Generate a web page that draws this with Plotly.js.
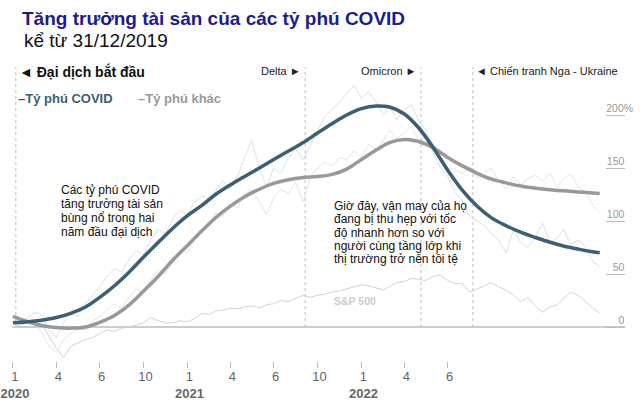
<!DOCTYPE html>
<html>
<head>
<meta charset="utf-8">
<script src="https://cdn.plot.ly/plotly-3.0.1.min.js"></script>
<style>
  html, body { margin: 0; padding: 0; background: #fff; }
  #chart { width: 640px; height: 412px; }
</style>
</head>
<body>
<div id="chart"></div>
<script>
// smoothed wealth growth in %, one value per month from Jan 2020 (last one is mid-month)
var covidTrend = [4, 5, 6.5, 9, 13, 19, 28, 39, 52, 66, 80, 93, 105, 115, 125, 134, 142, 150, 158, 166,
  174, 183, 192, 200, 206, 208.5, 207.5, 201, 188, 169, 148, 129, 114, 103, 95.5, 89.5, 84.5, 80, 76.5, 73.5, 71, 70];
var otherTrend = [10, 5, 1.5, -0.5, -1, 0, 4.5, 11, 21, 34, 48, 63, 77, 91, 103, 114, 123, 130, 135.5, 139,
  141, 142, 144, 149, 158, 167, 174, 177, 175, 169, 160, 152, 145, 139.5, 136, 133, 131, 129.5, 128.5, 127.5, 126.5, 126];

// raw series, two values per month (1st and 16th)
var covidRaw = [0, 4, 9, 14, 12, -2, -10, 4, 14, 10, 22, 30, 38, 48, 55, 52, 64, 72, 68, 82,
  92, 88, 102, 110, 106, 118, 124, 120, 128, 138, 131, 142, 160, 176, 150, 132, 150, 145, 160, 168,
  158, 172, 185, 198, 206, 212, 220, 228, 216, 222, 212, 200, 208, 196, 205, 210, 195, 186, 165, 150,
  142, 128, 118, 104, 100, 96, 88, 82, 70, 92, 80, 75, 84, 98, 80, 84, 92, 78, 82, 76, 62, 57];
var otherRaw = [0, 3, 6, 4, -5, -18, -24, -12, -6, -2, -3, 6, 10, 16, 22, 18, 28, 36, 32, 44,
  54, 50, 62, 72, 70, 84, 90, 96, 108, 104, 116, 112, 126, 130, 118, 106, 122, 130, 126, 136,
  118, 142, 150, 156, 152, 160, 158, 166, 160, 172, 168, 176, 186, 178, 183, 190, 176, 178, 165, 158,
  150, 148, 145, 152, 140, 146, 150, 138, 130, 142, 134, 140, 143, 138, 145, 132, 140, 145, 132, 128, 115, 108];
var sp500 = [0, 2, 4, 3, 3, -8, -20, -29, -18, -15, -12, -10, -6, -3, -4, -1, 0, 2, 4, 9,
  6, 4, 4, 6, 5, 8, 13, 12, 15, 16, 18, 17, 19, 20, 18, 21, 22, 25, 24, 27,
  30, 28, 30, 31, 33, 34, 36, 38, 40, 39, 37, 35, 38, 42, 43, 46, 45, 44, 48, 49,
  44, 41, 41, 33, 36, 39, 42, 38, 35, 30, 24, 28, 20, 14, 19, 21, 27, 33, 30, 24, 18, 13];

var eventDates = ['2020-01-07', '2021-09-05', '2022-05-06', '2022-08-23'];
var eventLabels = ['◄ Đại dịch bắt đầu', 'Delta ►', 'Omicron ►', '◄ Chiến tranh Nga - Ukraine'];

var tickDates = ['2020-01-01', '2020-04-01', '2020-07-01', '2020-10-01', '2021-01-01', '2021-04-01',
  '2021-07-01', '2021-10-01', '2022-01-01', '2022-04-01', '2022-07-01'];
var tickText = ['1<br><b>2020</b>', '4', '6', '10', '1<br><b>2021</b>', '4', '6', '10', '1<br><b>2022</b>', '4', '6'];

var yTicks = [0, 50, 100, 150, 200];
var yTickText = ['0', '50', '100', '150', '200%'];

var noteLeft = ['Các tỷ phú COVID', 'tăng trưởng tài sản', 'bùng nổ trong hai', 'năm đầu đại dịch'];
var noteRight = ['Giờ đây, vận may của họ', 'đang bị thu hẹp với tốc', 'độ nhanh hơn so với',
  'người cùng tầng lớp khi', 'thị trường trở nên tồi tệ'];

var FONT = 'Liberation Sans, Arial, sans-serif';
var BLUE = '#3b5f76';
var GREY = '#999999';

function halfMonth(i) {
  var d = new Date(Date.UTC(2020, Math.floor(i / 2), i % 2 ? 16 : 1));
  return d.toISOString().slice(0, 10);
}
var rawDates = covidRaw.map(function (v, i) { return halfMonth(i); });
var trendDates = covidTrend.map(function (v, i) {
  return i < covidTrend.length - 1 ? halfMonth(2 * i) : halfMonth(2 * i - 1);
});

// pixel -> paper helpers (plot area is x 12..625, y 62..361)
function px(p) { return (p - 12) / 613; }
function py(p) { return (361 - p) / 299; }

// pad non-% labels so the numbers line up and "%" hangs out
var pad = '\u00a0\u00a0\u00a0';
var yText = yTickText.map(function (t) { return t.indexOf('%') < 0 ? t + pad : t; });

var data = [
  { x: rawDates, y: sp500, type: 'scatter', mode: 'lines', line: { color: '#d2d2d2', width: 1 } },
  { x: rawDates, y: otherRaw, type: 'scatter', mode: 'lines', line: { color: '#e4e4e4', width: 1 } },
  { x: rawDates, y: covidRaw, type: 'scatter', mode: 'lines', line: { color: '#d8e1e7', width: 1 } },
  { x: trendDates, y: otherTrend, type: 'scatter', mode: 'lines', line: { color: GREY, width: 3.5, shape: 'spline' } },
  { x: trendDates, y: covidTrend, type: 'scatter', mode: 'lines', line: { color: BLUE, width: 3.5, shape: 'spline' } }
];

var shapes = eventDates.map(function (d) {
  return { type: 'line', xref: 'x', yref: 'y', x0: d, x1: d, y0: 0, y1: 245,
    line: { color: '#bbbbbb', width: 1, dash: 'dot' }, layer: 'below' };
});

var annotations = [];
eventDates.forEach(function (d, i) {
  var left = eventLabels[i].charAt(0) === '◄';
  annotations.push({
    xref: 'x', yref: 'paper', x: d, y: py(71), xanchor: left ? 'left' : 'right', yanchor: 'middle',
    xshift: left ? 1 : -2, showarrow: false,
    text: i === 0 ? '<b>' + eventLabels[i] + '</b>' : eventLabels[i],
    font: { family: FONT, size: i === 0 ? 14 : 11, color: i === 0 ? '#111' : '#222' }
  });
});

annotations.push(
  { xref: 'paper', yref: 'paper', x: px(16), y: py(98), xanchor: 'left', yanchor: 'middle', showarrow: false,
    text: '<b>–Tỷ phú COVID</b>', font: { family: FONT, size: 13, color: BLUE } },
  { xref: 'paper', yref: 'paper', x: px(136), y: py(98), xanchor: 'left', yanchor: 'middle', showarrow: false,
    text: '<b>–Tỷ phú khác</b>', font: { family: FONT, size: 13, color: GREY } },
  { xref: 'paper', yref: 'paper', x: px(355), y: py(301), xanchor: 'center', yanchor: 'middle', showarrow: false,
    text: '<b>S&P 500</b>', font: { family: FONT, size: 10.5, color: '#cccccc' } },
  { xref: 'paper', yref: 'paper', x: px(22), y: py(40), xanchor: 'left', yanchor: 'middle', showarrow: false,
    text: 'kể từ 31/12/2019', font: { family: FONT, size: 19, color: '#111' } }
);

noteLeft.forEach(function (t, j) {
  annotations.push({ xref: 'paper', yref: 'paper', x: px(59), y: py(190 + 14 * j), xanchor: 'left', yanchor: 'middle',
    showarrow: false, text: t, font: { family: FONT, size: 12, color: '#111' } });
});
noteRight.forEach(function (t, j) {
  annotations.push({ xref: 'paper', yref: 'paper', x: px(332), y: py(206 + 13.3 * j), xanchor: 'left', yanchor: 'middle',
    showarrow: false, text: t, font: { family: FONT, size: 12, color: '#111' } });
});

var layout = {
  width: 640, height: 412,
  margin: { l: 12, r: 15, t: 62, b: 51 },
  paper_bgcolor: '#fff', plot_bgcolor: '#fff',
  showlegend: false, hovermode: false,
  font: { family: FONT },
  title: {
    text: '<b>Tăng trưởng tài sản của các tỷ phú COVID</b>',
    x: 22 / 640, xanchor: 'left', xref: 'container',
    y: 1 - 18 / 412, yanchor: 'middle', yref: 'container',
    font: { family: FONT, size: 19, color: '#1b1b93' }
  },
  xaxis: {
    type: 'date', range: ['2019-12-30', '2023-07-08'],
    tickmode: 'array', tickvals: tickDates, ticktext: tickText,
    ticks: 'outside', ticklen: 6, tickcolor: '#bbbbbb',
    ticklabelstandoff: -3, ticklabelshift: 2, ticklabeloverflow: 'allow',
    tickfont: { family: FONT, size: 13, color: '#666' },
    showgrid: false, zeroline: false, showline: false
  },
  yaxis: {
    side: 'right', range: [-32, 250],
    tickmode: 'array', tickvals: yTicks, ticktext: yText,
    ticks: 'inside', ticklen: 19, tickcolor: '#bbbbbb',
    ticklabelposition: 'inside', ticklabelshift: -7, ticklabelstandoff: -28,
    tickfont: { family: FONT, size: 10.5, color: '#999' },
    showgrid: false, zeroline: true, zerolinecolor: '#cccccc', zerolinewidth: 2, showline: false
  },
  shapes: shapes,
  annotations: annotations
};

Plotly.newPlot('chart', data, layout, { displayModeBar: false, staticPlot: true });
</script>
</body>
</html>
